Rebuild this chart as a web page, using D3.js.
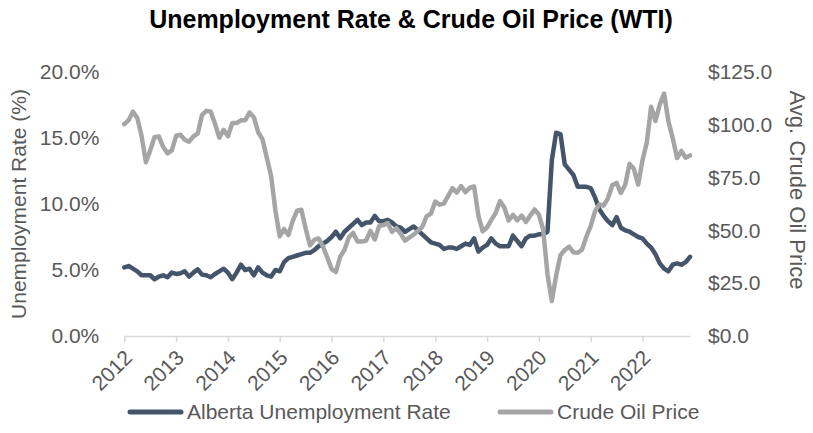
<!DOCTYPE html>
<html>
<head>
<meta charset="utf-8">
<script src="https://cdn.jsdelivr.net/npm/d3@7"></script>
<style>
  body { margin: 0; background: #fff; }
  svg { font-family: "Liberation Sans", Arial, sans-serif; }
</style>
</head>
<body>
<svg id="chart" width="813" height="433"></svg>
<script>
const chartTitle = "Unemployment Rate & Crude Oil Price (WTI)";
const yearLabels = ["2012", "2013", "2014", "2015", "2016", "2017", "2018", "2019", "2020", "2021", "2022"];
const rateTicks = [0, 5, 10, 15, 20];
const priceTicks = [0, 25, 50, 75, 100, 125];
const seriesNames = ["Alberta Unemployment Rate", "Crude Oil Price"];

// monthly, Jan 2012 - Dec 2022 (%)
const unemployment = [
  5.2, 5.3, 5.1, 4.9, 4.6, 4.6, 4.6, 4.3, 4.5, 4.6, 4.45, 4.8,
  4.7, 4.75, 4.9, 4.5, 4.8, 5.05, 4.65, 4.6, 4.45, 4.7, 4.9, 5.1,
  4.8, 4.3, 4.8, 5.4, 5.0, 5.1, 4.6, 5.2, 4.8, 4.6, 4.5, 5.0,
  4.9, 5.6, 5.9, 6.0, 6.1, 6.2, 6.3, 6.3, 6.5, 6.8, 7.0, 7.2,
  7.5, 7.9, 7.4, 7.9, 8.2, 8.5, 8.8, 8.4, 8.6, 8.6, 9.1, 8.7,
  8.7, 8.8, 8.6, 8.3, 8.2, 7.9, 8.1, 8.3, 8.0, 7.7, 7.4, 7.1,
  7.0, 6.9, 6.6, 6.7, 6.7, 6.6, 6.8, 7.0, 6.9, 7.4, 6.4, 6.7,
  6.9, 7.4, 7.0, 6.8, 6.8, 6.8, 7.6, 7.2, 6.8, 7.4, 7.6, 7.6,
  7.7, 7.7, 7.9, 13.3, 15.4, 15.3, 13.0, 12.6, 12.2, 11.3, 11.3, 11.3,
  11.2, 10.5, 9.6, 9.1, 8.7, 8.4, 9.0, 8.2, 8.0, 7.9, 7.7, 7.5,
  7.4, 7.0, 6.7, 6.2, 5.5, 5.1, 4.9, 5.4, 5.5, 5.4, 5.6, 6.0
];

// monthly average WTI ($)
const oilPrice = [
  100.3, 102.2, 106.2, 103.3, 94.7, 82.3, 87.9, 94.1, 94.5, 89.5, 86.5, 87.9,
  94.8, 95.3, 92.9, 92.0, 94.5, 95.8, 104.7, 106.6, 106.3, 100.5, 93.9, 97.6,
  94.6, 100.8, 100.8, 102.1, 102.2, 105.8, 103.6, 96.5, 93.2, 84.4, 75.8, 59.3,
  47.2, 50.6, 47.8, 54.5, 59.3, 59.8, 50.9, 42.9, 45.5, 46.2, 42.4, 37.2,
  31.7, 30.3, 37.6, 40.8, 46.7, 48.8, 44.7, 44.7, 45.2, 49.8, 45.7, 52.0,
  52.5, 53.5, 49.3, 51.1, 48.5, 45.2, 46.6, 48.0, 49.8, 51.6, 56.6, 57.9,
  63.7, 62.2, 62.7, 66.3, 70.0, 67.9, 71.0, 68.1, 70.2, 70.8, 57.0, 49.5,
  51.4, 55.0, 58.2, 63.9, 60.8, 54.7, 57.4, 54.8, 57.0, 54.0, 57.0, 59.9,
  57.5, 50.5, 29.2, 16.6, 28.6, 38.3, 40.7, 42.3, 39.6, 39.4, 40.9, 47.0,
  52.0, 59.0, 62.3, 61.7, 65.2, 71.4, 72.5, 67.7, 71.6, 81.5, 79.2, 71.7,
  83.2, 91.6, 108.5, 101.8, 109.6, 114.8, 101.6, 93.7, 84.3, 87.6, 84.4, 85.5
];

const colors = { rate: "#44546A", oil: "#A5A5A5", axis: "#D9D9D9", text: "#595959" };

const svg = d3.select("#chart");
const margin = { top: 72, right: 123, bottom: 97, left: 124.3 };
const width = 813, height = 433;

const x = d3.scaleLinear()
  .domain([0, unemployment.length - 1])
  .range([margin.left, width - margin.right]);

const yRate = d3.scaleLinear().domain([0, 20]).range([height - margin.bottom, margin.top]);
const yPrice = d3.scaleLinear().domain([0, 125]).range([height - margin.bottom, margin.top]);

// title
svg.append("text")
  .attr("x", 411)
  .attr("y", 28)
  .attr("text-anchor", "middle")
  .attr("font-size", 25)
  .attr("font-weight", "bold")
  .attr("fill", "#000")
  .text(chartTitle);

// x axis
const xAxis = d3.axisBottom(x)
  .tickValues(yearLabels.map((d, i) => i * 12))
  .tickFormat((d, i) => yearLabels[i])
  .tickSize(6)
  .tickSizeOuter(0);

const gx = svg.append("g")
  .attr("transform", `translate(0,${height - margin.bottom})`)
  .call(xAxis);
gx.select(".domain").attr("stroke", colors.axis).attr("stroke-width", 1.5);
gx.selectAll(".tick line").attr("stroke", colors.axis).attr("stroke-width", 1.5);
gx.selectAll(".tick text")
  .attr("font-size", 21)
  .attr("fill", colors.text)
  .attr("text-anchor", "end")
  .attr("x", -10)
  .attr("y", 15)
  .attr("dy", "0.35em")
  .attr("transform", "rotate(-45)");

// left axis
const gl = svg.append("g")
  .attr("transform", `translate(${margin.left},0)`)
  .call(d3.axisLeft(yRate).tickValues(rateTicks).tickFormat(d => d.toFixed(1) + "%").tickSize(0).tickPadding(25));
gl.select(".domain").remove();
gl.selectAll("text").attr("font-size", 21).attr("fill", colors.text);

// right axis
const gr = svg.append("g")
  .attr("transform", `translate(${width - margin.right},0)`)
  .call(d3.axisRight(yPrice).tickValues(priceTicks).tickFormat(d => "$" + d.toFixed(1)).tickSize(0).tickPadding(18));
gr.select(".domain").remove();
gr.selectAll("text").attr("font-size", 21).attr("fill", colors.text);

// axis titles
svg.append("text")
  .attr("transform", `translate(26,${(margin.top + height - margin.bottom) / 2}) rotate(-90)`)
  .attr("text-anchor", "middle")
  .attr("font-size", 21)
  .attr("fill", colors.text)
  .text("Unemployment Rate (%)");

svg.append("text")
  .attr("transform", `translate(790,190) rotate(90)`)
  .attr("text-anchor", "middle")
  .attr("font-size", 22)
  .attr("fill", colors.text)
  .text("Avg. Crude Oil Price");

// lines
const rateLine = d3.line().x((d, i) => x(i)).y(d => yRate(d));
const oilLine = d3.line().x((d, i) => x(i)).y(d => yPrice(d));

svg.append("path")
  .datum(unemployment)
  .attr("fill", "none")
  .attr("stroke", colors.rate)
  .attr("stroke-width", 4.5)
  .attr("stroke-linejoin", "round")
  .attr("stroke-linecap", "round")
  .attr("d", rateLine);

svg.append("path")
  .datum(oilPrice)
  .attr("fill", "none")
  .attr("stroke", colors.oil)
  .attr("stroke-width", 4.5)
  .attr("stroke-linejoin", "round")
  .attr("stroke-linecap", "round")
  .attr("d", oilLine);

// legend
const legend = svg.append("g").attr("transform", "translate(0,412)");
const legendItems = [
  { name: seriesNames[0], color: colors.rate, x: 128 },
  { name: seriesNames[1], color: colors.oil, x: 498 }
];
legendItems.forEach(item => {
  legend.append("line")
    .attr("x1", item.x + 2).attr("x2", item.x + 53)
    .attr("y1", 0).attr("y2", 0)
    .attr("stroke", item.color)
    .attr("stroke-width", 5)
    .attr("stroke-linecap", "round");
  legend.append("text")
    .attr("x", item.x + 59)
    .attr("y", 0)
    .attr("dy", "0.35em")
    .attr("font-size", 21)
    .attr("fill", colors.text)
    .text(item.name);
});
</script>
</body>
</html>
